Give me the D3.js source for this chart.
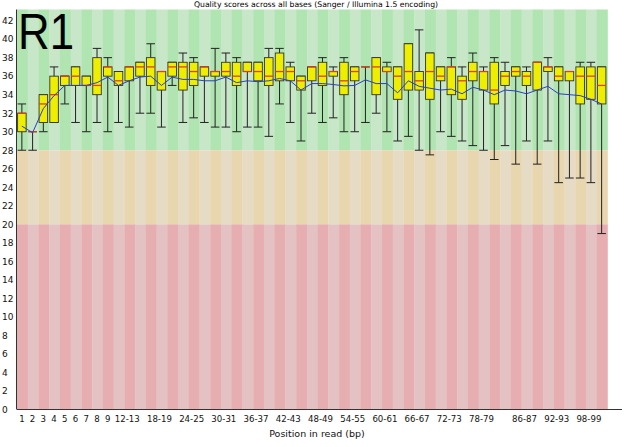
<!DOCTYPE html>
<html><head><meta charset="utf-8">
<script src="https://cdn.jsdelivr.net/npm/d3@7"></script>
<style>body{margin:0;background:#fff}svg{display:block}</style>
</head><body><svg id="c" width="624" height="447"></svg>
<script>
const categories = ["1","2","3","4","5","6","7","8","9","10-11","12-13","14-15","16-17","18-19","20-21","22-23","24-25","26-27","28-29","30-31","32-33","34-35","36-37","38-39","40-41","42-43","44-45","46-47","48-49","50-51","52-53","54-55","56-57","58-59","60-61","62-63","64-65","66-67","68-69","70-71","72-73","74-75","76-77","78-79","80-81","82-83","84-85","86-87","88-89","90-91","92-93","94-95","96-97","98-99","100-101"];
const xTickLabels = ["1","2","3","4","5","6","7","8","9","12-13","18-19","24-25","30-31","36-37","42-43","48-49","54-55","60-61","66-67","72-73","78-79","86-87","92-93","98-99"];
const yTicks = [0,2,4,6,8,10,12,14,16,18,20,22,24,26,28,30,32,34,36,38,40,42];
const whiskerLow = [28,28,30,31,33,31,30,31,30,31,30.5,32,32,30.5,35,31,31.5,31,30.5,30.5,30,30.5,30.5,29.5,33,31,29,32,31,31.5,30,30,31,32,30,29,29.5,28,27.5,30,29.5,29,28.5,28,27,28.5,26.5,29,26.5,29,24.5,25,25,24.5,19];
const lowerQuartile = [30,30,31,31,35,35,35,34,36,35,35.5,36,35,34.5,36,34.5,35,36,36,36,35,36.5,35.5,35,35.5,35.5,34.5,35.5,35,36,34,35.5,37,34,36.5,33.5,34.5,34.5,33.5,35.5,34,33.5,35.5,34.5,33,35,36,35,34.5,36.5,35.5,35.5,33,33.5,33];
const median = [32,30,33,34,36,36,35,35,37,35.5,37,37,37,36.5,37,37,36.5,37,36.5,36.5,36,36.5,36.5,36,36.5,36.5,35.5,37,36,36.5,35.5,36.5,37,37,36.5,36,36.5,35.5,36.5,36,37,35.5,36.5,36.5,34.5,36,36.5,36,37.5,37,36,36.5,36,36,35];
const upperQuartile = [32,30,34,36,36,37,36,38,37,36.5,37,37.5,38,36.5,37.5,37.5,37.5,37,36.5,37.5,37.5,37.5,37.5,38,38.5,37,36,37,37.5,36.5,37.5,37,37,38,37,37,39.5,36.5,38.5,37,37,36,37.5,36.5,37.5,36.5,37,36.5,37.5,37,37,36.5,37,37,37];
const whiskerHigh = [33,30,34,37,36,37,36,39,38,36.5,37,37.5,39.5,36.5,37.5,38.5,38,37,39,38.5,38,37.5,37.5,39,39,37.5,36,37,38,37,38,37,37,38,37.5,37,39.5,41,38.5,37,38,37,38.5,37,38,37.5,37,37,37.5,38,37,36.5,37.5,37.5,37];
const meanQuality = [30.6,29.9,32.5,33.9,35.0,35.0,35.0,35.3,35.9,35.0,35.5,35.9,36.0,35.0,35.9,35.65,35.65,35.5,35.5,35.9,35.3,35.5,35.4,35.5,35.75,35.5,34.5,35.2,35.2,35.1,34.95,35.0,35.6,35.2,35.2,34.2,35.5,34.9,34.7,34.5,34.6,34.1,34.8,34.5,34.0,34.5,34.4,34.1,34.5,34.9,34.1,34.0,33.9,33.5,33.0];
const zones = [
  {lo:28, hi:43.2, dark:"#b0e4b0", light:"#c8e6c8"},
  {lo:20, hi:28, dark:"#e8d6ae", light:"#e6dcc6"},
  {lo:0, hi:20, dark:"#e6aeb0", light:"#e4c2c4"}
];

const svg = d3.select("#c");
const x = d3.scaleBand().domain(categories).range([17, 607.5]).padding(0);
const y = d3.scaleLinear().domain([0, 43.2]).range([409.5, 9.5]);
const bw = x.bandwidth();

// background stripes
const bg = svg.append("g");
zones.forEach(z => {
  bg.selectAll(null).data(categories).enter().append("rect")
    .attr("x", d => x(d)).attr("width", bw + 0.3)
    .attr("y", y(z.hi)).attr("height", y(z.lo) - y(z.hi))
    .attr("fill", (d, i) => i % 2 === 0 ? z.dark : z.light);
});

// title
svg.append("text").attr("x", 316).attr("y", 7).attr("text-anchor", "middle")
  .attr("font-family", "DejaVu Sans").attr("font-size", 7.7).attr("fill", "#000")
  .text("Quality scores across all bases (Sanger / Illumina 1.5 encoding)");

// boxes
const g = svg.append("g");
categories.forEach((c, i) => {
  const bx = x(c) + 0.6, bwid = bw - 2.2, cx = bx + bwid / 2;
  g.append("line").attr("x1", cx).attr("x2", cx).attr("y1", y(whiskerHigh[i])).attr("y2", y(whiskerLow[i]))
    .attr("stroke", "#222").attr("stroke-width", 1);
  g.append("line").attr("x1", bx).attr("x2", bx + bwid).attr("y1", y(whiskerHigh[i])).attr("y2", y(whiskerHigh[i]))
    .attr("stroke", "#222").attr("stroke-width", 1);
  g.append("line").attr("x1", bx).attr("x2", bx + bwid).attr("y1", y(whiskerLow[i])).attr("y2", y(whiskerLow[i]))
    .attr("stroke", "#222").attr("stroke-width", 1);
  g.append("rect").attr("x", bx).attr("width", bwid)
    .attr("y", y(upperQuartile[i])).attr("height", Math.max(0, y(lowerQuartile[i]) - y(upperQuartile[i])))
    .attr("fill", "#eeee00").attr("stroke", "#333").attr("stroke-width", 0.9);
  g.append("line").attr("x1", bx).attr("x2", bx + bwid).attr("y1", y(median[i])).attr("y2", y(median[i]))
    .attr("stroke", "#e0401a").attr("stroke-width", 1.3);
});

// mean line
svg.append("path").datum(categories)
  .attr("fill", "none").attr("stroke", "#2a3fc8").attr("stroke-width", 1)
  .attr("d", d3.line().x(d => x(d) + bw / 2 - 0.5).y((d, i) => y(meanQuality[i])));

// axes
svg.append("line").attr("x1", 17).attr("x2", 622).attr("y1", 409.5).attr("y2", 409.5).attr("stroke", "#333");
svg.append("line").attr("x1", 16.5).attr("x2", 16.5).attr("y1", 9.5).attr("y2", 409.5).attr("stroke", "#333");

svg.append("g").selectAll("text").data(yTicks).enter().append("text")
  .attr("x", 2).attr("y", d => y(d) + 3.3)
  .attr("font-family", "DejaVu Sans").attr("font-size", 9).attr("fill", "#111")
  .text(d => d);

svg.append("g").selectAll("text").data(xTickLabels).enter().append("text")
  .attr("x", d => x(d) + bw / 2 - (d.length > 2 ? 2.5 : 0.5)).attr("y", 422)
  .attr("text-anchor", "middle")
  .attr("font-family", "DejaVu Sans").attr("font-size", 8.6).attr("fill", "#111")
  .text(d => d);

svg.append("text").attr("x", 317).attr("y", 437).attr("text-anchor", "middle")
  .attr("font-family", "DejaVu Sans").attr("font-size", 9.5).attr("fill", "#111")
  .text("Position in read (bp)");

// R1 label
svg.append("text").attr("x", 18).attr("y", 49)
  .attr("font-family", "Liberation Sans, Arial, sans-serif").attr("font-size", 50).attr("fill", "#000")
  .attr("textLength", 56).attr("lengthAdjust", "spacingAndGlyphs")
  .text("R1");
</script></body></html>
